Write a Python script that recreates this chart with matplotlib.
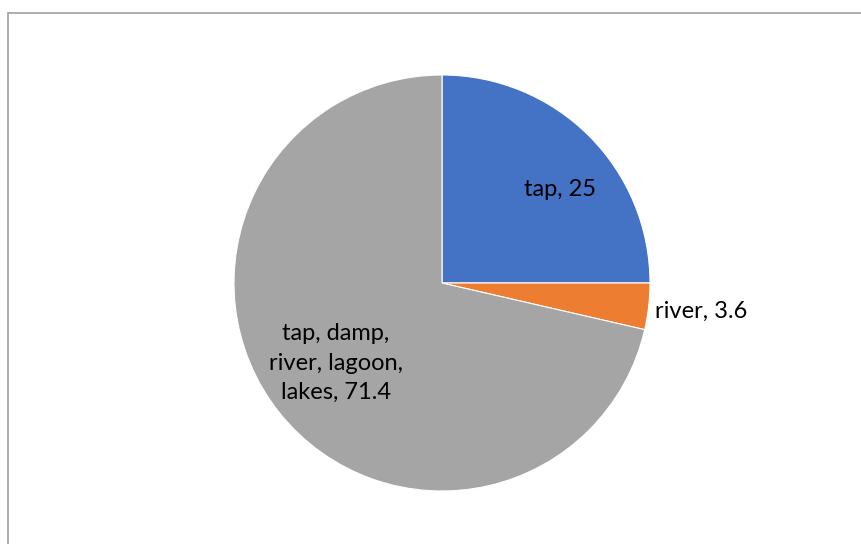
import matplotlib
matplotlib.use("Agg")
import matplotlib.pyplot as plt
from matplotlib.patches import Rectangle

categories = ["tap", "river", "tap, damp,\nriver, lagoon,\nlakes"]
values = [25, 3.6, 71.4]
colors = ["#4472C4", "#ED7D31", "#A5A5A5"]

W, H = 862, 544
fig = plt.figure(figsize=(W / 100, H / 100), dpi=100)
fig.patch.set_facecolor("white")

# chart-area frame (runs off the right and bottom edges)
fig.add_artist(Rectangle((8 / W, -0.1), 1.1, (H - 13) / H + 0.1,
                         transform=fig.transFigure, fill=False,
                         edgecolor="#A0A0A0", linewidth=1.2))

cx, cy, r = 442, 283, 208
ax = fig.add_axes([(cx - r) / W, (H - cy - r) / H, 2 * r / W, 2 * r / H])
ax.pie(values, colors=colors, startangle=90, counterclock=False,
       radius=1, wedgeprops=dict(edgecolor="white", linewidth=0.8))
ax.set_xlim(-1, 1)
ax.set_ylim(-1, 1)
ax.set_aspect("equal")
ax.axis("off")

font = dict(family=["Lato", "DejaVu Sans"], fontsize=17, color="black")
ax.text(0.565, 0.45, f"{categories[0]}, {values[0]:g}", ha="center", va="center", **font)
ax.text(1.024, -0.135, f"{categories[1]}, {values[1]:g}", ha="left", va="center", **font)
ax.text(-0.51, -0.385, f"{categories[2]}, {values[2]:g}", ha="center", va="center",
        linespacing=1.5, **font)

fig.savefig("out.png", dpi=100)
